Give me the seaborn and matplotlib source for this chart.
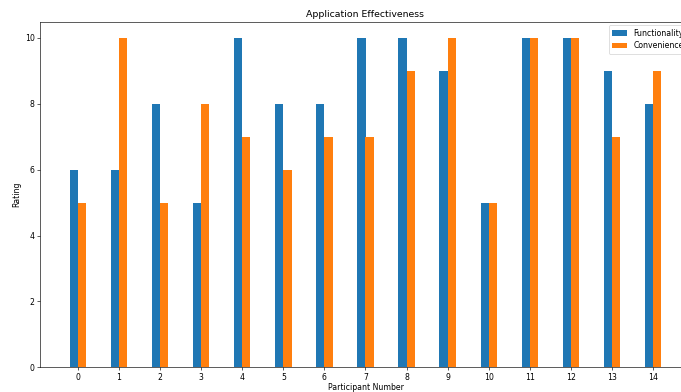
import matplotlib
matplotlib.use("Agg")
import matplotlib.pyplot as plt
import pandas as pd
import seaborn as sns

# Ratings per participant
participants = list(range(15))
functionality = [6, 6, 8, 5, 10, 8, 8, 10, 10, 9, 5, 10, 10, 9, 8]
convenience = [5, 10, 5, 8, 7, 6, 7, 7, 9, 10, 5, 10, 10, 7, 9]

# Long-form table for seaborn
df = pd.DataFrame({
    "Participant Number": participants * 2,
    "Rating": functionality + convenience,
    "Metric": ["Functionality"] * 15 + ["Convenience"] * 15,
})

plt.rcParams["font.family"] = ["DejaVu Sans"]

# low dpi so the default matplotlib sizes shrink like the original
DPI = 56
fig = plt.figure(figsize=(681 / DPI, 392 / DPI), dpi=DPI)
# axes run a little past the right edge of the picture, as in the original
ax = fig.add_axes([40 / 681, 24.7 / 392, (691 - 40) / 681, (367.3 - 21.5) / 392])

sns.barplot(data=df, x="Participant Number", y="Rating", hue="Metric",
            palette=["#1f77b4", "#ff7f0e"], width=0.4, saturation=1,
            linewidth=0, ax=ax)

ax.set_xlim(-0.92, 14.92)
ax.set_ylim(0, 10.5)
ax.set_title("Application Effectiveness")
ax.set_xlabel("Participant Number", labelpad=2)
ax.set_ylabel("Rating")
ax.legend(title=None, loc="upper right")

fig.savefig("out.png", dpi=DPI)
